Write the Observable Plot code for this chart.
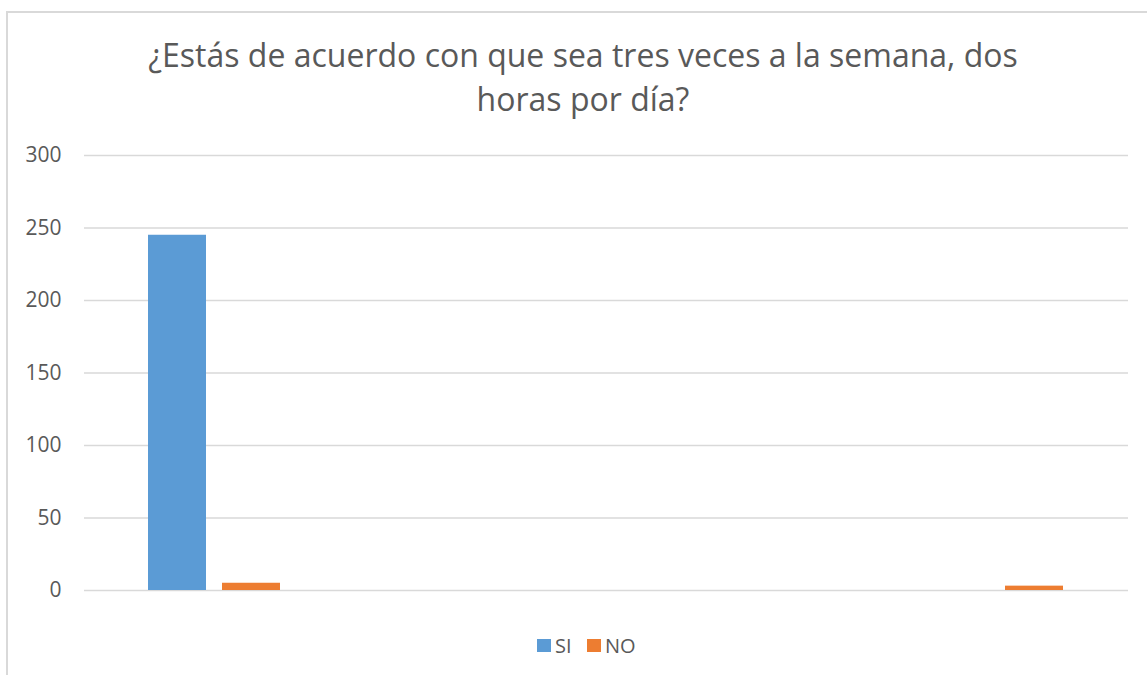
<!DOCTYPE html>
<html>
<head>
<meta charset="utf-8">
<script src="https://cdn.jsdelivr.net/npm/d3@7"></script>
<script src="https://cdn.jsdelivr.net/npm/@observablehq/plot@0.6"></script>
<style>
  html, body { margin: 0; padding: 0; background: #fff; }
  #page { position: relative; width: 1147px; height: 675px; overflow: hidden; font-family: "Open Sans", sans-serif; color: #595959; }
  #frame { position: absolute; left: 6px; top: 11px; width: 1200px; height: 700px; border-left: 2px solid #d9d9d9; border-top: 2px solid #d9d9d9; }
  #title { position: absolute; left: 0; top: 33px; width: 1166px; text-align: center; font-size: 32px; line-height: 44px; color: #595959; }
  #chart { position: absolute; left: 0; top: 130px; }
  #chart svg text { font-size: 21px; fill: #595959; }
  #legend { position: absolute; left: 0; top: 634px; width: 1147px; height: 22px; font-size: 20px; color: #595959; }
  .item { position: absolute; top: 0; display: flex; align-items: center; height: 22px; }
  .sw { width: 14px; height: 13px; margin-right: 4px; }
</style>
</head>
<body>
<div id="page">
  <div id="frame"></div>
  <div id="title">¿Estás de acuerdo con que sea tres veces a la semana, dos<br>horas por día?</div>
  <div id="chart"></div>
  <div id="legend"></div>
</div>
<script>
const categories = ["1", "2", "3", "4"];
const seriesNames = ["SI", "NO"];
const siValues = [245, 0, 0, 0];
const noValues = [5, 0, 0, 3];
const yTicks = [0, 50, 100, 150, 200, 250, 300];
const colors = ["#5B9BD5", "#ED7D31"];

const data = [];
categories.forEach((c, i) => {
  data.push({cat: c, series: "SI", value: siValues[i]});
  data.push({cat: c, series: "NO", value: noValues[i]});
});

const plot = Plot.plot({
  width: 1147,
  height: 490,
  marginTop: 25,
  marginBottom: 30,
  marginLeft: 83,
  marginRight: 18,
  style: {fontFamily: "Open Sans, sans-serif", fontSize: "21px", color: "#595959", background: "transparent"},
  fx: {domain: categories, padding: 0, axis: null},
  x: {domain: seriesNames, paddingInner: 0.213, paddingOuter: 0.85, axis: null},
  y: {domain: [0, 300], ticks: yTicks, tickSize: 0, tickPadding: 23, label: null},
  color: {domain: seriesNames, range: colors},
  marks: [
    Plot.ruleY(yTicks, {stroke: "#d9d9d9", strokeWidth: 1.3}),
    Plot.barY(data, {fx: "cat", x: "series", y: "value", fill: "series"})
  ]
});
document.getElementById("chart").appendChild(plot);

const legend = document.getElementById("legend");
const positions = [537, 587];
seriesNames.forEach((s, i) => {
  const it = document.createElement("div");
  it.className = "item";
  it.style.left = positions[i] + "px";
  const sw = document.createElement("div");
  sw.className = "sw";
  sw.style.background = colors[i];
  const t = document.createElement("span");
  t.textContent = s;
  it.appendChild(sw);
  it.appendChild(t);
  legend.appendChild(it);
});
</script>
</body>
</html>
